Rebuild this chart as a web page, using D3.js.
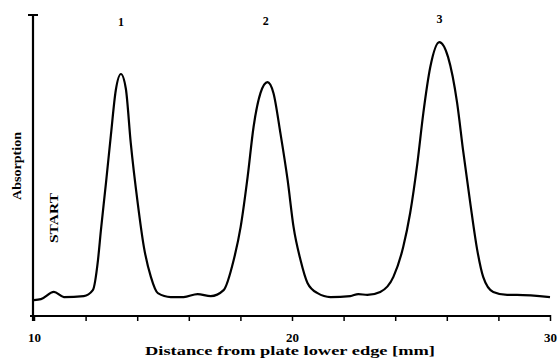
<!DOCTYPE html>
<html>
<head>
<meta charset="utf-8">
<script src="https://d3js.org/d3.v7.min.js"></script>
<style>
  html, body { margin: 0; padding: 0; background: #fff; }
  svg { display: block; }
  text { font-family: "Liberation Serif", "DejaVu Serif", serif; font-weight: bold; fill: #000; }
</style>
</head>
<body>
<svg id="chart" width="558" height="359"></svg>
<script>
// Distance from plate lower edge [mm]
const distance = [10.00, 10.27, 10.77, 11.16, 11.93, 12.28, 12.48, 12.59, 12.79, 12.98, 13.17, 13.37, 13.56, 13.75, 14.02, 14.26, 14.53, 14.80, 15.30, 15.80, 16.34, 16.85, 17.35, 17.74, 18.01, 18.28, 18.51, 18.78, 19.05, 19.28, 19.55, 19.83, 20.06, 20.33, 20.60, 20.99, 21.49, 22.26, 22.57, 22.92, 23.42, 23.93, 24.31, 24.58, 24.86, 25.09, 25.36, 25.71, 26.05, 26.40, 26.63, 26.91, 27.18, 27.41, 27.80, 28.34, 28.72, 30.00];
// Absorption (arbitrary units)
const absorption = [5.3, 5.6, 8.0, 6.3, 6.6, 8.6, 18.6, 28.2, 44.2, 60.1, 75.0, 80.4, 75.5, 57.5, 37.5, 22.9, 13.0, 7.6, 6.3, 6.3, 7.3, 6.6, 8.6, 18.6, 29.6, 46.2, 62.8, 74.1, 77.7, 74.1, 60.8, 45.2, 29.6, 18.6, 11.0, 7.6, 6.3, 6.6, 7.3, 7.0, 8.0, 13.0, 22.9, 34.2, 50.8, 67.4, 82.7, 91.0, 86.0, 70.8, 55.1, 37.5, 21.9, 13.0, 8.0, 7.0, 7.0, 6.3];

const xTickLabels = [10, 20, 30];
const xMinorTicks = [12, 14, 16, 18, 22, 24, 26, 28];
const peakNames = ["1", "2", "3"];
const peakDistance = [13.37, 18.98, 25.72];
const peakLabelLevel = [96.3, 96.6, 97.3];
const startLabel = "START";
const xTitle = "Distance from plate lower edge [mm]";
const yTitle = "Absorption";

const svg = d3.select("#chart");
const x = d3.scaleLinear().domain([10, 30]).range([34, 550]);
const y = d3.scaleLinear().domain([0, 100]).range([316, 15]);

// x axis
const xAxis = d3.axisBottom(x)
  .tickValues(xTickLabels.concat(xMinorTicks))
  .tickSize(5)
  .tickFormat(d => xTickLabels.includes(d) ? d : "");
const gx = svg.append("g").attr("transform", `translate(0,${y(0)})`).call(xAxis);
gx.select(".domain").attr("d", `M30,0H${x(30)}`).attr("stroke", "#000").attr("stroke-width", 2);
gx.selectAll(".tick line").attr("stroke", "#000").attr("stroke-width", 1.5).attr("y1", -1);
gx.selectAll(".tick text")
  .attr("y", 26)
  .attr("dy", 0)
  .style("font-family", "'Liberation Serif', serif")
  .style("font-weight", "bold")
  .style("font-size", "13px");

// y axis
const gy = svg.append("g").attr("transform", `translate(${x(10) - 1},0)`);
gy.append("line").attr("x1", 0).attr("x2", 0).attr("y1", y(100)).attr("y2", y(0) + 5)
  .attr("stroke", "#000").attr("stroke-width", 2.2);
gy.append("line").attr("x1", -5).attr("x2", 5).attr("y1", y(100)).attr("y2", y(100))
  .attr("stroke", "#000").attr("stroke-width", 2);

// curve
const pts = distance.map((d, i) => [d, absorption[i]]);
svg.append("path")
  .datum(pts)
  .attr("d", d3.line().x(d => x(d[0])).y(d => y(d[1])).curve(d3.curveMonotoneX))
  .attr("fill", "none")
  .attr("stroke", "#000")
  .attr("stroke-width", 2.2)
  .attr("stroke-linejoin", "round");

// peak labels
svg.selectAll(".peak").data(peakNames).enter().append("text")
  .attr("class", "peak")
  .attr("x", (d, i) => x(peakDistance[i]))
  .attr("y", (d, i) => y(peakLabelLevel[i]))
  .attr("text-anchor", "middle")
  .style("font-size", "12px")
  .text(d => d);

// START label
svg.append("text")
  .attr("transform", `translate(58,218) rotate(-90)`)
  .attr("text-anchor", "middle")
  .attr("textLength", 50)
  .attr("lengthAdjust", "spacingAndGlyphs")
  .style("font-size", "12px")
  .text(startLabel);

// axis titles
svg.append("text")
  .attr("x", 290).attr("y", 355)
  .attr("text-anchor", "middle")
  .attr("textLength", 290)
  .attr("lengthAdjust", "spacingAndGlyphs")
  .style("font-size", "12px")
  .text(xTitle);

svg.append("text")
  .attr("transform", `translate(21,166) rotate(-90)`)
  .attr("text-anchor", "middle")
  .attr("textLength", 68)
  .attr("lengthAdjust", "spacingAndGlyphs")
  .style("font-size", "12px")
  .text(yTitle);
</script>
</body>
</html>
